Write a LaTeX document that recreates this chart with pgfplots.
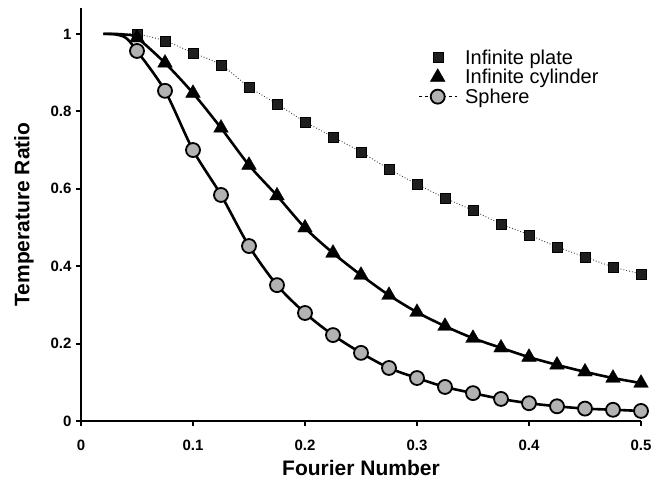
\documentclass[border=0pt]{standalone}
\usepackage{fontspec}
\setmainfont{Liberation Sans}
\usepackage{pgfplots}
\usepackage{pgfplotstable}
\pgfplotsset{compat=1.18}

\pgfplotstableread{
x y
0.02 1.0
0.03 1.0
0.04 1.0
0.05 1.0
0.075 0.982
0.1 0.951
0.125 0.920
0.15 0.863
0.175 0.819
0.2 0.773
0.225 0.734
0.25 0.695
0.275 0.651
0.3 0.612
0.325 0.576
0.35 0.544
0.375 0.509
0.4 0.481
0.425 0.450
0.45 0.424
0.475 0.398
0.5 0.380
}\plate

\pgfplotstableread{
x y
0.02 1.0
0.03 1.0
0.04 0.998
0.05 0.990
0.075 0.925
0.1 0.847
0.125 0.757
0.15 0.661
0.175 0.582
0.2 0.499
0.225 0.434
0.25 0.377
0.275 0.325
0.3 0.281
0.325 0.245
0.35 0.214
0.375 0.189
0.4 0.165
0.425 0.145
0.45 0.127
0.475 0.111
0.5 0.098
}\cylinder

\pgfplotstableread{
x y
0.02 1.0
0.03 0.999
0.04 0.990
0.05 0.956
0.075 0.853
0.1 0.700
0.125 0.584
0.15 0.452
0.175 0.351
0.2 0.279
0.225 0.222
0.25 0.176
0.275 0.137
0.3 0.111
0.325 0.088
0.35 0.072
0.375 0.057
0.4 0.046
0.425 0.038
0.45 0.032
0.475 0.029
0.5 0.026
}\sphere

\begin{document}
\begin{tikzpicture}
\begin{axis}[
  scale only axis,
  width=560pt, height=413pt,
  xmin=0, xmax=0.5, ymin=0, ymax=1.067,
  axis lines*=left,
  axis line style={line width=2.5pt},
  clip=false,
  tick align=outside,
  major tick length=5pt,
  every tick/.style={black, line width=2pt},
  xtick={0,0.1,0.2,0.3,0.4,0.5},
  ytick={0,0.2,0.4,0.6,0.8,1},
  xticklabels={0,0.1,0.2,0.3,0.4,0.5},
  yticklabels={0,0.2,0.4,0.6,0.8,1},
  ticklabel style={font=\fontsize{15}{17}\selectfont\bfseries},
  xticklabel style={yshift=-10pt},
  yticklabel style={xshift=-1pt},
  /pgf/number format/assume math mode=true,
  xlabel={Fourier Number},
  ylabel={Temperature Ratio},
  label style={font=\fontsize{21}{24}\selectfont\bfseries},
  xlabel style={at={(axis description cs:0.5,-0.1126)}, anchor=center},
  ylabel style={at={(axis description cs:-0.1018,0.5)}, anchor=center, rotate=0},
  legend image code/.code={\draw[mark repeat=2,mark phase=2,#1] plot coordinates {(0pt,0pt)(19pt,0pt)(38pt,0pt)};},
  legend style={at={(axis cs:0.301,0.965)}, anchor=north west, draw=none, fill=none,
    inner sep=0pt, font=\fontsize{20}{22}\selectfont, row sep=-0.5pt,
    /tikz/every odd column/.append style={column sep=6pt}},
  legend cell align=left,
]
\coordinate (o) at (rel axis cs:0,0);
% plate
\addplot[forget plot, black!75, line width=0.9pt, dotted, smooth] table[x=x,y=y] {\plate};
\addplot[forget plot, only marks, mark=square*, mark size=5pt, mark options={fill=black!88, draw=black, line width=0.5pt}, skip coords between index={0}{3}] table[x=x,y=y] {\plate};
% cylinder
\addplot[forget plot, black, line width=2.6pt, smooth] table[x=x,y=y] {\cylinder};
\addplot[forget plot, only marks, mark=triangle*, mark size=8.5pt, mark options={fill=black, draw=black, line width=0.3pt}, skip coords between index={0}{3}] table[x=x,y=y] {\cylinder};
% sphere
\addplot[forget plot, black, line width=2.6pt, smooth] table[x=x,y=y] {\sphere};
\addplot[forget plot, only marks, mark=*, mark size=7pt, mark options={fill=black!30, draw=black, line width=1.8pt}, skip coords between index={0}{3}] table[x=x,y=y] {\sphere};

\addlegendimage{only marks, mark=square*, mark size=5pt, mark options={fill=black!88, draw=black}}
\addlegendentry{Infinite plate}
\addlegendimage{only marks, mark=triangle*, mark size=8.5pt, mark options={fill=black, draw=black}}
\addlegendentry{Infinite cylinder}
\addlegendimage{black, line width=0.8pt, dashed, mark=*, mark size=7pt, mark options={solid, fill=black!30, draw=black, line width=1.8pt}}
\addlegendentry{Sphere}
\end{axis}
\pgfresetboundingbox
\path[use as bounding box] ([xshift=-81pt,yshift=-60pt]o) rectangle ([xshift=583pt,yshift=421pt]o);
\end{tikzpicture}
\end{document}
